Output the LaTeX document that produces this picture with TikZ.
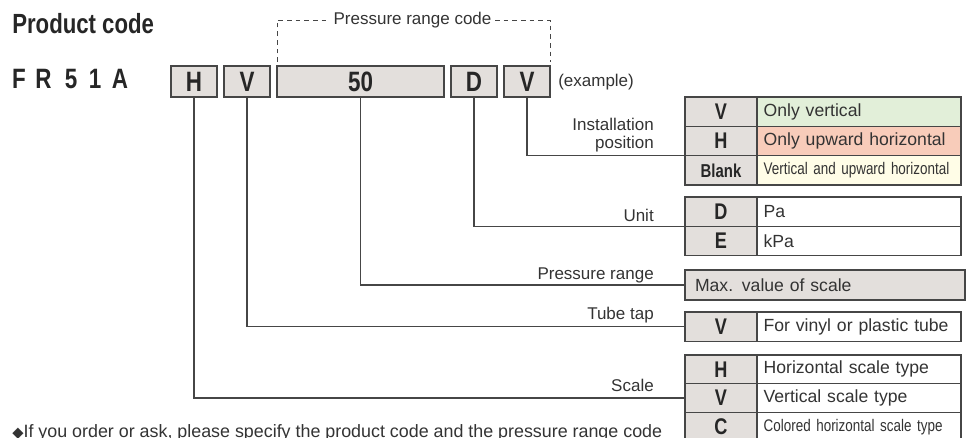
\documentclass[tikz,border=0pt]{standalone}
\usepackage{fontspec}
\setmainfont{Liberation Sans}
\newfontfamily\condfont{Liberation Sans}[FakeStretch=0.8]
\newfontfamily\symfont{DejaVu Sans}
\usetikzlibrary{positioning}

\definecolor{boxgray}{RGB}{227,223,220}
\definecolor{vertgreen}{RGB}{226,239,217}
\definecolor{horsalmon}{RGB}{248,204,186}
\definecolor{blankcream}{RGB}{255,253,231}
\definecolor{inkgray}{RGB}{51,51,51}
\definecolor{linegray}{RGB}{70,70,70}

\begin{document}
\begin{tikzpicture}[x=0.75pt, y=-0.75pt,
  codebox/.style={draw=linegray, fill=boxgray, line width=0.8pt, minimum width=34.5pt, minimum height=23.25pt, inner sep=0pt, outer sep=0pt, anchor=north west, font=\condfont\bfseries\fontsize{21}{21}\selectfont, text=black!85},
  codeletter/.style={anchor=base, inner sep=0pt, font=\condfont\bfseries\fontsize{21}{21}\selectfont, text=black!85},
  keycell/.style={draw=linegray, fill=boxgray, line width=0.9pt, minimum width=54pt, minimum height=22pt, inner sep=0pt, outer sep=0pt, anchor=north west, font=\condfont\bfseries\fontsize{17}{17}\selectfont, text=black!85},
  desccell/.style={draw=linegray, fill=white, line width=0.9pt, text width=143pt, minimum height=22pt, inner xsep=5pt, inner ysep=0pt, outer sep=0pt, anchor=north west, align=left, font=\fontsize{13.2}{14}\selectfont, text=inkgray},
  narrowtext/.style={font=\condfont\fontsize{12.6}{13}\selectfont},
  lbl/.style={anchor=base east, inner sep=0pt, font=\fontsize{12.75}{13}\selectfont, text=inkgray},
  leader/.style={draw=linegray, line width=0.8pt},
  bracket/.style={draw=linegray, line width=0.6pt, dash pattern=on 3.5pt off 3pt}]
  \useasboundingbox (0,0) rectangle (967,437);
  \clip (0,0) rectangle (967,437);

  % heading and product code
  \node[anchor=base west, inner sep=0pt, font=\condfont\bfseries\fontsize{20.8}{21}\selectfont, text=black!85] (title) at (12,33) {Product code};
  \foreach \ch/\xx in {F/19, R/43.5, 5/71, 1/95, A/120}
    \node[codeletter] (fr-\ch) at (\xx,88) {\ch};

  \node[codebox] (cH) at (171,66) {H};
  \node[codebox] (cV) at (224,66) {V};
  \node[codebox, minimum width=125.25pt] (cP) at (277,66) {50};
  \node[codebox] (cD) at (451,66) {D};
  \node[codebox] (cI) at (504,66) {V};
  \node[anchor=base west, inner sep=0pt, font=\fontsize{12.75}{13}\selectfont, text=inkgray] (example) at (558,86) {(example)};

  % pressure range code bracket
  \node[inner xsep=2.5pt, inner ysep=0pt, font=\fontsize{12.75}{13}\selectfont, text=inkgray, text height=1.6ex, text depth=0.4ex] (prc) at (412.5,20) {Pressure range code};
  \draw[bracket, shorten <=3pt] (cP.north west) |- (prc.west);
  \draw[bracket, shorten >=3pt] (prc.east) -| (cI.north east);

  % installation position
  \node[keycell] (iV) at (685,97) {V};
  \node[desccell, fill=vertgreen] (iVd) at (iV.north east) {Only vertical};
  \node[keycell] (iH) at (iV.south west) {H};
  \node[desccell, fill=horsalmon] (iHd) at (iH.north east) {Only upward horizontal};
  \node[keycell, font=\condfont\bfseries\fontsize{14}{14}\selectfont] (iB) at (iH.south west) {Blank};
  \node[desccell, fill=blankcream, narrowtext] (iBd) at (iB.north east) {Vertical and upward horizontal};

  % unit
  \node[keycell] (uD) at (685,197) {D};
  \node[desccell] (uDd) at (uD.north east) {Pa};
  \node[keycell] (uE) at (uD.south west) {E};
  \node[desccell] (uEd) at (uE.north east) {kPa};

  % pressure range
  \node[desccell, fill=boxgray, text width=195pt, minimum height=22.5pt, inner xsep=7.5pt] (pMax) at (685,270) {Max. value of scale};

  % tube tap
  \node[keycell] (tV) at (685,312) {V};
  \node[desccell] (tVd) at (tV.north east) {For vinyl or plastic tube};

  % scale
  \node[keycell, minimum height=21.5pt] (sH) at (685,355) {H};
  \node[desccell, minimum height=21.5pt] (sHd) at (sH.north east) {Horizontal scale type};
  \node[keycell, minimum height=21.5pt] (sV) at (sH.south west) {V};
  \node[desccell, minimum height=21.5pt] (sVd) at (sV.north east) {Vertical scale type};
  \node[keycell, minimum height=21.5pt] (sC) at (sV.south west) {C};
  \node[desccell, narrowtext, minimum height=21.5pt] (sCd) at (sC.north east) {Colored horizontal scale type};

  % leaders
  \draw[leader] (cI.south) |- (iH.south west);
  \draw[leader] (cD.south) |- (uD.south west);
  \draw[leader] (cP.south) |- (pMax.west);
  \draw[leader] (cV.south) |- (tV.west);
  \draw[leader] (cH.south) |- (sV.west);

  \node[lbl, anchor=south east, align=right] (lInst) at (654,152) {Installation\\position};
  \node[lbl] (lUnit) at (654,221) {Unit};
  \node[lbl] (lPres) at (654,279) {Pressure range};
  \node[lbl] (lTube) at (654,319) {Tube tap};
  \node[lbl] (lScale) at (654,391) {Scale};

  % note
  \node[anchor=base west, inner sep=0pt, font=\fontsize{13.4}{14}\selectfont, text=inkgray] (note) at (12,437) {{\symfont\fontsize{11}{11}\selectfont ◆}If you order or ask, please specify the product code and the pressure range code};
\end{tikzpicture}
\end{document}
